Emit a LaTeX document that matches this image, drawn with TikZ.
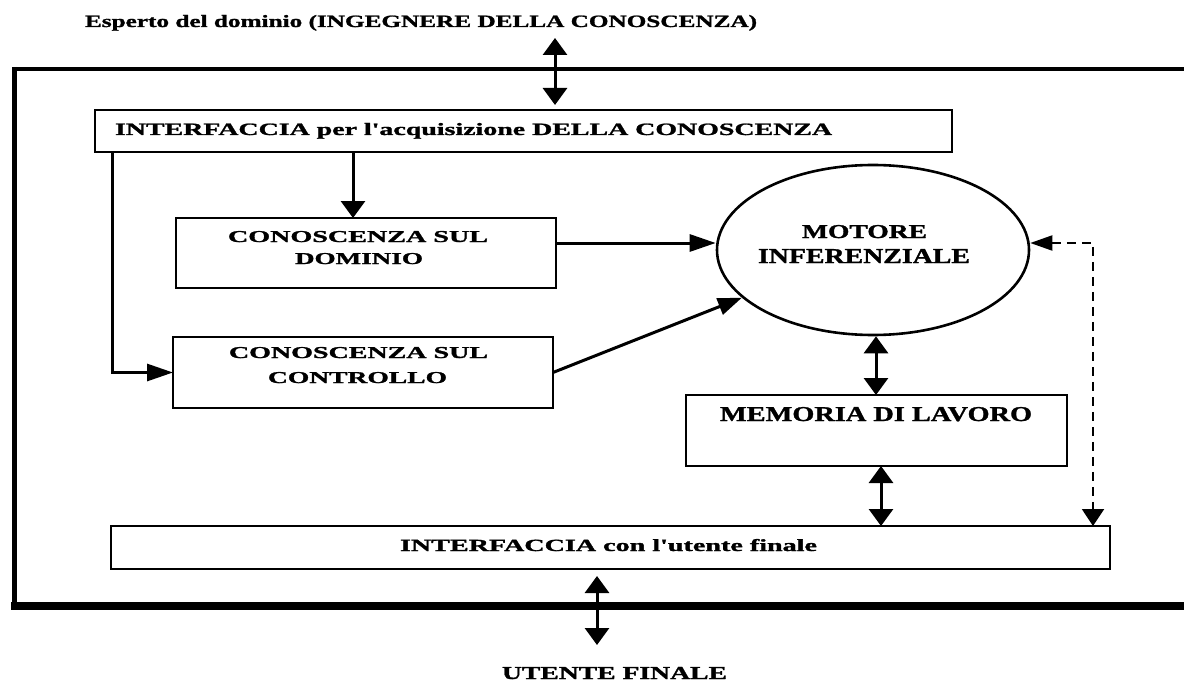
\documentclass[tikz,border=0pt]{standalone}
\usepackage{fontspec}
\setmainfont{Liberation Serif}
\newfontfamily\heavyfont[FakeBold=1.2]{Liberation Serif Bold}
\usepackage{graphicx}
\usetikzlibrary{arrows.meta,shapes.geometric}
\newcommand{\fittext}[3]{\resizebox{#1pt}{#2pt}{\heavyfont #3}}
\tikzset{
  box/.style={draw, line width=2.6pt, inner sep=0pt, outer sep=0pt},
  lbl/.style={inner sep=0pt, outer sep=0pt, anchor=base west},
  conn/.style={line width=3pt},
  vv/.style={conn, {Triangle[width=24pt,length=17pt]}-{Triangle[width=24pt,length=17pt]}},
  vend/.style={conn, -{Triangle[width=24pt,length=17pt]}},
  hend/.style={conn, -{Triangle[width=17pt,length=26pt]}},
  dashconn/.style={line width=2pt, dash pattern=on 9pt off 6pt},
}
\begin{document}
\begin{tikzpicture}[x=1pt,y=-1pt]
\useasboundingbox (0,0) rectangle (1184,682);
% outer frame
\draw[line width=3.5pt] (1184,69) -- (12,69);
\draw[line width=5pt] (14,67) -- (14,609);
\draw[line width=8pt] (11,606) -- (1184,606);
% boxes
\node[box, minimum width=857pt, minimum height=42pt] (acq) at (523.5,131) {};
\node[box, minimum width=380pt, minimum height=70pt] (dom) at (366,253) {};
\node[box, minimum width=380pt, minimum height=71pt] (ctl) at (363,372.5) {};
\node[box, minimum width=381pt, minimum height=71pt] (mem) at (876.5,430.5) {};
\node[box, minimum width=999pt, minimum height=43pt] (ute) at (610.5,547.5) {};
\node[draw, ellipse, line width=2.6pt, inner sep=0pt, minimum width=312pt, minimum height=170pt] (ell) at (873,250) {};
% labels
\node[lbl] (t0) at (85,27) {\fittext{672}{12}{Esperto del dominio (INGEGNERE DELLA CONOSCENZA)}};
\node[lbl] (t1) at (115,135) {\fittext{717}{12}{INTERFACCIA per l'acquisizione DELLA CONOSCENZA}};
\node[lbl] (t2) at (228,242) {\fittext{260}{11}{CONOSCENZA SUL}};
\node[lbl] (t3) at (295,264) {\fittext{128}{11}{DOMINIO}};
\node[lbl] (t4) at (229,358) {\fittext{259}{11}{CONOSCENZA SUL}};
\node[lbl] (t5) at (268,383) {\fittext{179}{11}{CONTROLLO}};
\node[lbl] (t6) at (802,238) {\fittext{125}{13}{MOTORE}};
\node[lbl] (t7) at (758,263) {\fittext{212}{14}{INFERENZIALE}};
\node[lbl] (t8) at (720,421) {\fittext{312}{14}{MEMORIA DI LAVORO}};
\node[lbl] (t9) at (400,551) {\fittext{417}{12}{INTERFACCIA con l'utente finale}};
\node[lbl] (t10) at (502,679) {\fittext{225}{12}{UTENTE FINALE}};
% connectors
\coordinate (pA) at (555,38);
\coordinate (xA) at (555,0);
\draw[vv, shorten >=5pt] (pA) -- (acq.north -| xA);
\coordinate (xB) at (353,0);
\draw[vend] (acq.south -| xB) -- (dom.north -| xB);
\coordinate (xC) at (112,0);
\draw[hend] (acq.south -| xC) |- (ctl.west);
\coordinate (yD) at (0,243);
\draw[hend] (dom.east |- yD) -- (ell.west |- yD);
\draw[conn, -{Triangle[width=17pt,length=24pt]}] (ctl.east) -- (ell.200);
\coordinate (xE) at (1093,0);
\draw[dashconn, {Triangle[width=15pt,length=22pt]}-{Triangle[width=22pt,length=17pt]}] (ell.east |- yD) -| (ute.north -| xE);
\coordinate (xF) at (876,0);
\draw[vv] (ell.south -| xF) -- (mem.north -| xF);
\coordinate (xG) at (881,0);
\draw[vv] (mem.south -| xG) -- (ute.north -| xG);
\coordinate (xH) at (597,0);
\coordinate (pH) at (597,645);
\draw[vv, shorten <=7pt] (ute.south -| xH) -- (pH);
\end{tikzpicture}
\end{document}
